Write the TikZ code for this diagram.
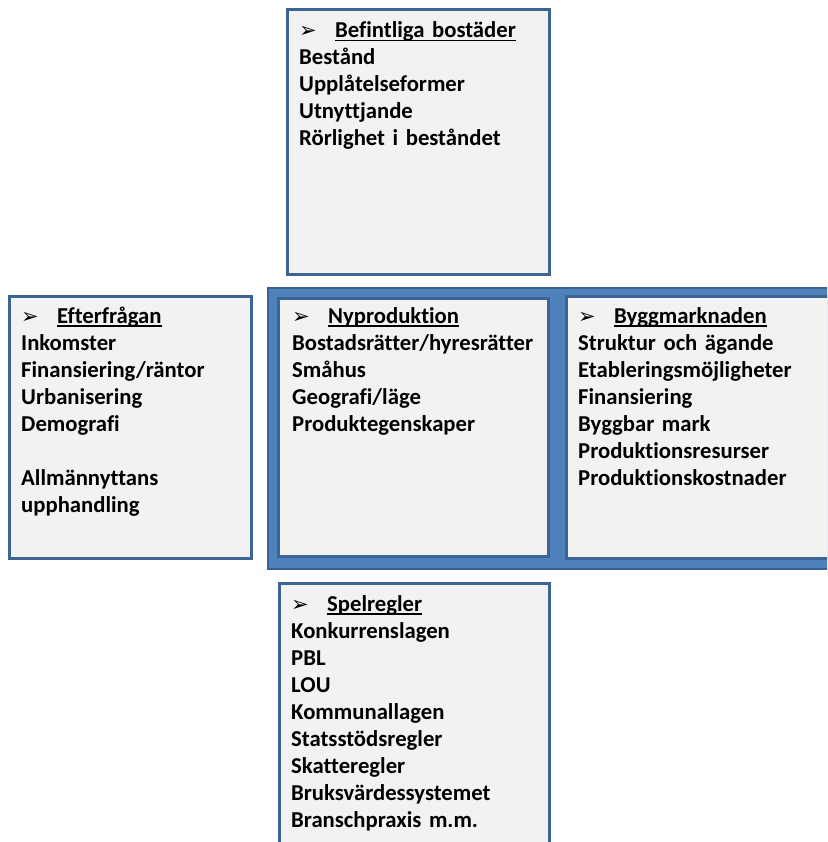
\documentclass[tikz,border=0pt]{standalone}
\usepackage{fontspec}
\setmainfont{Carlito}[Ligatures=NoCommon]
\newfontfamily\bulletfont{DejaVu Sans}
\definecolor{boxfill}{HTML}{F2F2F2}
\definecolor{boxline}{HTML}{3D6594}
\definecolor{framefill}{HTML}{4F81BD}
\definecolor{frameline}{HTML}{3A6291}
\newcommand\myhead[1]{\makebox[36pt][l]{\bulletfont\fontsize{21}{21}\selectfont ➢}\setbox0\hbox{#1}\rlap{\rule[-3.5pt]{\wd0}{1.6pt}}\box0}
\tikzset{
  box/.style={draw=boxline, line width=3pt, fill=boxfill, inner sep=0pt, anchor=north west},
  frame/.style={draw=frameline, line width=2pt, fill=framefill, inner sep=0pt, anchor=north west},
  txt/.style={anchor=base west, inner sep=0pt, text width=270pt, align=left, font=\bfseries\fontsize{22.7}{27}\selectfont}
}
\begin{document}
\begin{tikzpicture}[x=1pt,y=-1pt]
\useasboundingbox (0,0) rectangle (827,842);
\clip (0,0) rectangle (827,842);
\node[frame, minimum width=620pt, minimum height=281pt] (frame) at (267,287) {};
\node[box, minimum width=270pt, minimum height=258pt] (center) at (277,297) {};
\node[box, minimum width=300pt, minimum height=262pt] (right) at (565,295) {};
\node[box, minimum width=242pt, minimum height=262pt] (left) at (8,295) {};
\node[box, minimum width=262pt, minimum height=265pt] (top) at (286,8) {};
\node[box, minimum width=270pt, minimum height=300pt] (bottom) at (278,582) {};

\node[txt] (toptext) at (299,38) {\myhead{Befintliga bostäder}\\Bestånd\\Upplåtelseformer\\Utnyttjande\\Rörlighet i beståndet};
\node[txt] (lefttext) at (21,323) {\myhead{Efterfrågan}\\Inkomster\\Finansiering/räntor\\Urbanisering\\Demografi\\[27pt]Allmännyttans\\upphandling};
\node[txt] (centertext) at (292,323) {\myhead{Nyproduktion}\\Bostadsrätter/hyresrätter\\Småhus\\Geografi/läge\\Produktegenskaper};
\node[txt] (righttext) at (578,323) {\myhead{Byggmarknaden}\\Struktur och ägande\\Etableringsmöjligheter\\Finansiering\\Byggbar mark\\Produktionsresurser\\Produktionskostnader};
\node[txt] (bottomtext) at (291,611) {\myhead{Spelregler}\\Konkurrenslagen\\PBL\\LOU\\Kommunallagen\\Statsstödsregler\\Skatteregler\\Bruksvärdessystemet\\Branschpraxis m.m.};
\end{tikzpicture}
\end{document}
